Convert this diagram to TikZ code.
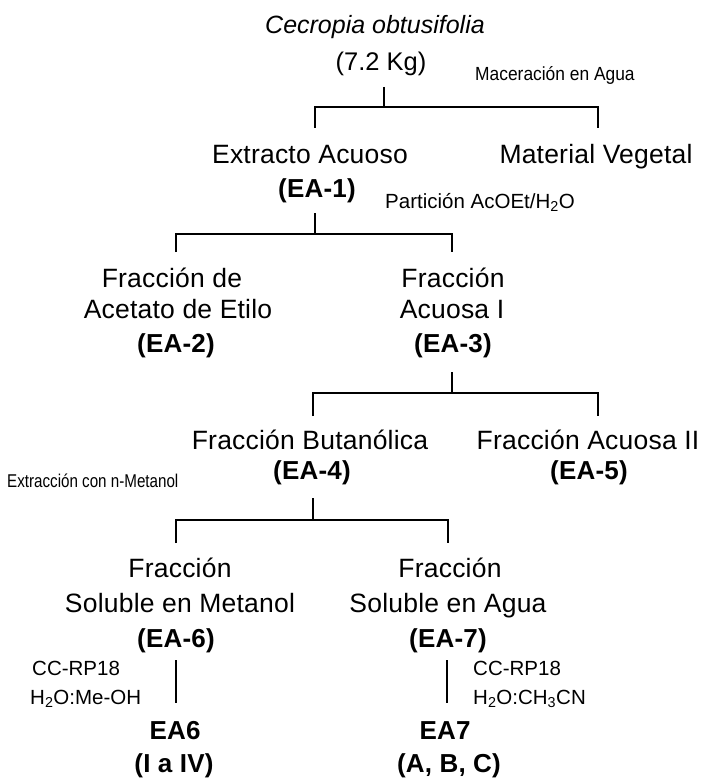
\documentclass[tikz,border=0pt]{standalone}
\usepackage{fontspec}
\setmainfont{Liberation Sans}
\newfontfamily\bodyfont[LetterSpace=0.8]{Liberation Sans}
\newfontfamily\plainfont{Liberation Sans}
\newfontfamily\narrowfont[FakeStretch=0.915]{Liberation Sans}
\newfontfamily\narrowerfont[FakeStretch=0.82]{Liberation Sans}
\begin{document}
\begin{tikzpicture}[x=1pt,y=-1pt,
  txt/.style={inner sep=0pt, anchor=base, font=\bodyfont\fontsize{26.5}{30}\selectfont},
  code/.style={txt, font=\bodyfont\bfseries\fontsize{26}{30}\selectfont},
  note/.style={inner sep=0pt, anchor=base west, font=\plainfont\fontsize{20.5}{24}\selectfont},
  thin note/.style={inner sep=0pt, anchor=base west, font=\narrowfont\fontsize{19}{22}\selectfont},
  thinner note/.style={inner sep=0pt, anchor=base west, font=\narrowerfont\fontsize{18.5}{22}\selectfont},
  link/.style={line width=2.6pt}]
\useasboundingbox (0,0) rectangle (706,778);

% plant material
\node[txt, font=\plainfont\itshape\fontsize{25}{30}\selectfont] (cecropia) at (375,34) {Cecropia obtusifolia};
\node[txt, font=\plainfont\fontsize{25.5}{30}\selectfont] (kg) at (381,71) {(7.2 Kg)};
\node[thin note] (macer) at (475,81) {Maceración en Agua};

% first level
\node[txt] (extracto) at (310,164) {Extracto Acuoso};
\node[code] (ea1) at (317,197) {(EA-1)};
\node[txt] (material) at (596,164) {Material Vegetal};
\node[note] (particion) at (385,208) {Partición AcOEt/H\textsubscript{2}O};

% second level
\node[txt] (fracde) at (172,287) {Fracción de};
\node[txt] (acetato) at (178,318) {Acetato de Etilo};
\node[code] (ea2) at (176,352) {(EA-2)};
\node[txt] (fracA) at (453,287) {Fracción};
\node[txt] (acuosaI) at (452,318) {Acuosa I};
\node[code] (ea3) at (453,352) {(EA-3)};

% third level
\node[txt] (butan) at (310,449) {Fracción Butanólica};
\node[code] (ea4) at (312,479) {(EA-4)};
\node[txt] (acuosaII) at (588,449) {Fracción Acuosa II};
\node[code] (ea5) at (589,479) {(EA-5)};
\node[thinner note] (extraccion) at (7,487) {Extracción con n-Metanol};

% fourth level
\node[txt] (frac6) at (180,577) {Fracción};
\node[txt] (sol6) at (180,612) {Soluble en Metanol};
\node[code] (ea6) at (176,647) {(EA-6)};
\node[txt] (frac7) at (450,577) {Fracción};
\node[txt] (sol7) at (448,612) {Soluble en Agua};
\node[code] (ea7) at (448,647) {(EA-7)};

% column chromatography
\node[note] (cc6) at (32,675) {CC-RP18};
\node[note] (solv6) at (30,704) {H\textsubscript{2}O:Me-OH};
\node[note] (cc7) at (473,675) {CC-RP18};
\node[note] (solv7) at (473,704) {H\textsubscript{2}O:CH\textsubscript{3}CN};

\node[code] (ea6b) at (175,739) {EA6};
\node[code] (ea6c) at (174,772) {(I a IV)};
\node[code] (ea7b) at (445,739) {EA7};
\node[code] (ea7c) at (449,772) {(A, B, C)};

% bracket joints
\coordinate (s1) at (384,87);   \coordinate (j1) at (384,107);
\coordinate (l1) at (315,128);  \coordinate (r1) at (598,128);
\coordinate (s2) at (315,213);  \coordinate (j2) at (315,234);
\coordinate (l2) at (176,252);  \coordinate (r2) at (452,252);
\coordinate (s3) at (452,372);  \coordinate (j3) at (452,393);
\coordinate (l3) at (313,416);  \coordinate (r3) at (598,416);
\coordinate (s4) at (313,498);  \coordinate (j4) at (313,520);
\coordinate (l4) at (176,543);  \coordinate (r4) at (448,543);
\coordinate (s6) at (176,660);  \coordinate (e6) at (176,703);
\coordinate (s7) at (447,660);  \coordinate (e7) at (447,703);

\draw[link] (s1) -- (j1);
\draw[link] (l1) |- (j1) -| (r1);
\draw[link] (s2) -- (j2);
\draw[link] (l2) |- (j2) -| (r2);
\draw[link] (s3) -- (j3);
\draw[link] (l3) |- (j3) -| (r3);
\draw[link] (s4) -- (j4);
\draw[link] (l4) |- (j4) -| (r4);
\draw[link] (s6) -- (e6);
\draw[link] (s7) -- (e7);
\end{tikzpicture}
\end{document}
